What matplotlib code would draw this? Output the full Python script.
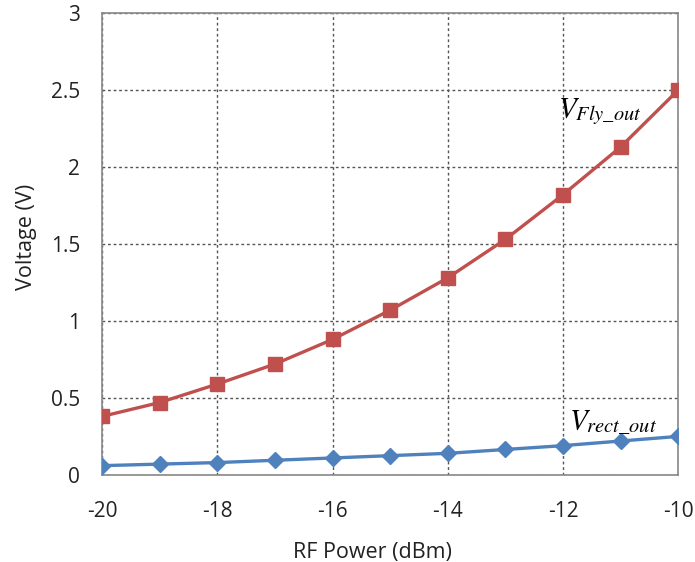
import matplotlib

matplotlib.use("Agg")

import matplotlib.pyplot as plt

rf_power = [-20, -19, -18, -17, -16, -15, -14, -13, -12, -11, -10]
v_fly_out = [0.38, 0.47, 0.59, 0.72, 0.88, 1.07, 1.28, 1.53, 1.82, 2.13, 2.50]
v_rect_out = [0.06, 0.07, 0.08, 0.095, 0.11, 0.125, 0.14, 0.165, 0.19, 0.22, 0.25]

x_ticks = [-20, -18, -16, -14, -12, -10]
y_ticks = [0, 0.5, 1, 1.5, 2, 2.5, 3]
y_tick_labels = ["0", "0.5", "1", "1.5", "2", "2.5", "3"]

RED = "#C0504D"
BLUE = "#4F81BD"

plt.rcParams["font.family"] = ["Open Sans", "DejaVu Sans"]
plt.rcParams["mathtext.fontset"] = "stix"

fig = plt.figure(figsize=(6.95, 5.62), dpi=100)
ax = fig.add_axes([0.147, 0.155, 0.829, 0.822])

ax.plot(rf_power, v_fly_out, color=RED, linewidth=2.4, marker="s",
        markersize=9.5, zorder=3)
ax.plot(rf_power, v_rect_out, color=BLUE, linewidth=2.4, marker="D",
        markersize=8.5, zorder=3)

ax.text(-12.08, 2.36, r"$V_{Fly\_out}$", fontsize=21, va="center", ha="left")
ax.text(-11.9, 0.34, r"$V_{rect\_out}$", fontsize=21, va="center", ha="left")

ax.set_xlim(-20, -10)
ax.set_ylim(0, 3)
ax.set_xticks(x_ticks)
ax.set_xticklabels([str(x) for x in x_ticks])
ax.set_yticks(y_ticks)
ax.set_yticklabels(y_tick_labels)
ax.tick_params(length=0, labelsize=15, colors="#222222")
ax.tick_params(axis="x", pad=19)
ax.tick_params(axis="y", pad=16)
ax.grid(True, linestyle=(0, (2, 2)), color="#555555", linewidth=1.0)
ax.set_axisbelow(True)
for spine in ax.spines.values():
    spine.set_color("#888888")
    spine.set_linewidth(1.2)

ax.set_xlabel("RF Power (dBm)", fontsize=15.5, color="#222222")
ax.set_ylabel("Voltage (V)", fontsize=15.5, color="#222222")
ax.xaxis.set_label_coords(0.469, -0.145)
ax.yaxis.set_label_coords(-0.113, 0.515)

fig.savefig("out.png", dpi=100)
plt.close(fig)
